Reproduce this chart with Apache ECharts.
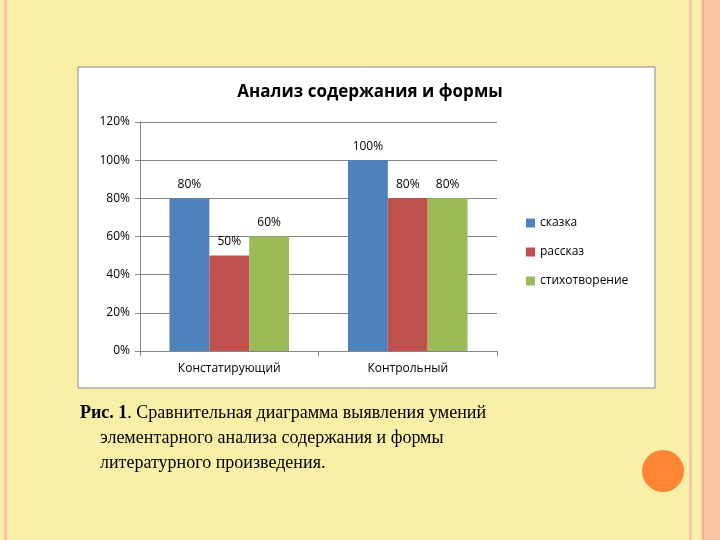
<!DOCTYPE html>
<html>
<head>
<meta charset="utf-8">
<script src="https://cdn.jsdelivr.net/npm/echarts@6/dist/echarts.min.js"></script>
<style>
  html, body { margin: 0; padding: 0; background: #FAEFA6; }
  #chart { width: 720px; height: 540px; }
</style>
</head>
<body>
<div id="chart"></div>
<script>
const categories = ['Констатирующий', 'Контрольный'];
const seriesNames = ['сказка', 'рассказ', 'стихотворение'];
const skazka = [80, 100];
const rasskaz = [50, 80];
const stikh = [60, 80];
const colors = ['#4F81BD', '#C0504D', '#9BBB59'];

const chart = echarts.init(document.getElementById('chart'));

const font = '"Open Sans", "DejaVu Sans", sans-serif';
const serif = '"Liberation Serif", "DejaVu Serif", serif';

// slide decoration, chart frame and caption
const decor = [
  { type: 'rect', shape: { x: 4, y: 0, width: 3, height: 540 }, style: { fill: '#F9C3A6' }, z: -10 },
  { type: 'rect', shape: { x: 689, y: 0, width: 3, height: 540 }, style: { fill: '#F9C3A6' }, z: -10 },
  { type: 'rect', shape: { x: 701, y: 0, width: 19, height: 540 }, style: { fill: '#F9C3A6' }, z: -10 },
  { type: 'rect', shape: { x: 703, y: 0, width: 1, height: 540 }, style: { fill: '#F0A88A' }, z: -10 },
  { type: 'rect', shape: { x: 78, y: 67, width: 577, height: 321 }, style: { fill: '#fff', stroke: '#888', lineWidth: 1 }, z: -5 },
  { type: 'circle', shape: { cx: 663, cy: 471, r: 21 }, style: { fill: '#FE8533' } },
  { type: 'text', left: 80, top: 404, style: { rich: { b: { fontWeight: 'bold', fontSize: 18, fontFamily: serif } }, text: '{b|Рис. 1}. Сравнительная диаграмма выявления умений', fontSize: 18, fontFamily: serif, fill: '#000' } },
  { type: 'text', left: 100, top: 429, style: { text: 'элементарного анализа содержания и формы', fontSize: 18, fontFamily: serif, fill: '#000' } },
  { type: 'text', left: 100, top: 454, style: { text: 'литературного произведения.', fontSize: 18, fontFamily: serif, fill: '#000' } }
];

const labelOpt = {
  show: true, position: 'top', distance: 8,
  formatter: p => p.value + '%',
  fontFamily: font, fontSize: 12, color: '#000'
};

chart.setOption({
  animation: false,
  title: {
    text: 'Анализ содержания и формы',
    left: 365, top: 79, textAlign: 'center',
    textStyle: { fontFamily: font, fontSize: 17, fontWeight: 'bold', color: '#000' }
  },
  legend: {
    orient: 'vertical', left: 521, top: 212, itemGap: 17,
    itemWidth: 9, itemHeight: 9, icon: 'rect',
    data: seriesNames,
    textStyle: { fontFamily: font, fontSize: 12, color: '#000' }
  },
  grid: { left: 140, top: 122, width: 357, height: 229 },
  xAxis: {
    type: 'category', data: categories,
    axisLine: { lineStyle: { color: '#868686' } },
    axisTick: { show: true, alignWithLabel: false, length: 5, lineStyle: { color: '#868686' } },
    axisLabel: { fontFamily: font, fontSize: 12, color: '#000', margin: 12 }
  },
  yAxis: {
    type: 'value', min: 0, max: 120, interval: 20,
    axisLine: { show: true, lineStyle: { color: '#868686' } },
    axisTick: { show: true, length: 5, lineStyle: { color: '#868686' } },
    axisLabel: { formatter: '{value}%', fontFamily: font, fontSize: 12, color: '#000', margin: 10 },
    splitLine: { lineStyle: { color: '#868686' } }
  },
  series: [skazka, rasskaz, stikh].map((d, i) => ({
    name: seriesNames[i], type: 'bar', data: d,
    itemStyle: { color: colors[i] },
    barGap: '0%', barCategoryGap: '33%',
    label: labelOpt
  })),
  graphic: decor
});
</script>
</body>
</html>
